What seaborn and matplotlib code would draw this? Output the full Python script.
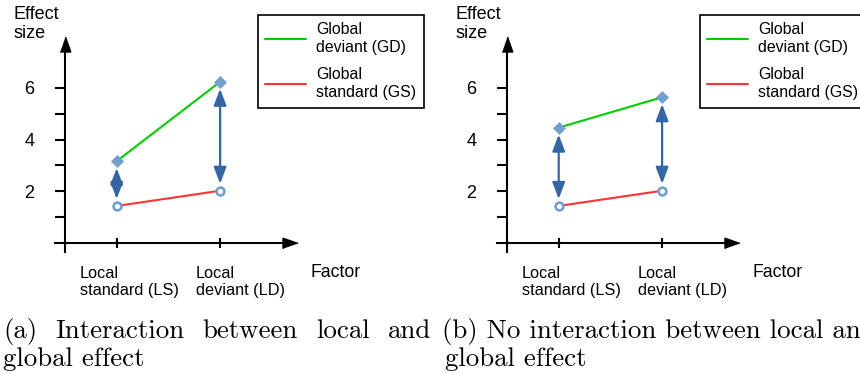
import numpy as np
import pandas as pd
import matplotlib
matplotlib.use("Agg")
import matplotlib.pyplot as plt
from matplotlib.lines import Line2D
import seaborn as sns

# ---------------- data ----------------
factor_labels = ["Local\nstandard (LS)", "Local\ndeviant (LD)"]
factor_pos = [1, 3]
gd_a = [3.16, 6.24]   # Global deviant, panel (a)
gs_a = [1.42, 2.01]   # Global standard, panel (a)
gd_b = [4.46, 5.64]   # Global deviant, panel (b)
gs_b = [1.42, 2.01]   # Global standard, panel (b)
legend_labels = ["Global\ndeviant (GD)", "Global\nstandard (GS)"]
yticks_major = [2, 4, 6]
yticks_minor = [1, 3, 5]
ylabel_text = "Effect\nsize"
xlabel_text = "Factor"
caption_a = ["(a) Interaction between local and", "global effect"]
caption_b = ["(b) No interaction between local and", "global effect"]

# ---------------- style ----------------
sns.set_theme(style="white")
plt.rcParams["font.family"] = ["Liberation Sans", "DejaVu Sans"]

GREEN = "#00cc00"
RED = "#ff3333"
MARK = "#729fcf"
ARROW = "#3465a4"

W, H = 860, 374
fig = plt.figure(figsize=(W / 100, H / 100), dpi=100)

XL, XR = -0.19, 4.36
YB, YT = -0.37, 7.69
PXU, PYU = 51.7, 25.75
ORIGIN_Y = 242.5
label_offsets = [-0.71, -0.47]

tri_up = [(-0.35, -0.5), (0.35, -0.5), (0, 0.5)]
tri_right = [(-0.5, -0.35), (-0.5, 0.35), (0.5, 0)]


def make_ax(origin_x):
    left = origin_x + XL * PXU
    width = (XR - XL) * PXU
    bottom_px = ORIGIN_Y - YB * PYU
    height = (YT - YB) * PYU
    return fig.add_axes([left / W, (H - bottom_px) / H, width / W, height / H])


def draw_panel(ax, gd, gs, legend_left):
    df = pd.DataFrame({
        "pos": factor_pos * 2,
        "effect": gd + gs,
        "series": ["GD"] * len(gd) + ["GS"] * len(gs),
    })
    # double-headed arrows between the two series at each factor level
    for x, lo, hi in zip(factor_pos, gs, gd):
        ax.annotate("", xy=(x, hi), xytext=(x, lo),
                    arrowprops=dict(arrowstyle="<|-|>,head_length=1.0,head_width=0.38",
                                    color=ARROW, lw=1.6, shrinkA=5, shrinkB=5,
                                    mutation_scale=10), zorder=2)
    sns.lineplot(data=df[df.series == "GD"], x="pos", y="effect", ax=ax,
                 color=GREEN, lw=1.5, marker="D", ms=6.4, mfc=MARK, mec=MARK,
                 mew=0.5, zorder=3, legend=False)
    sns.lineplot(data=df[df.series == "GS"], x="pos", y="effect", ax=ax,
                 color=RED, lw=1.5, marker="o", ms=5.6, mfc="white", mec=MARK,
                 mew=1.9, zorder=3, legend=False)

    ax.set_xlim(XL, XR)
    ax.set_ylim(YB, YT)
    ax.set_xlabel("")
    ax.set_ylabel("")
    for s in ["top", "right"]:
        ax.spines[s].set_visible(False)
    for s in ["left", "bottom"]:
        ax.spines[s].set_position(("data", 0))
        ax.spines[s].set_linewidth(1.5)
        ax.spines[s].set_color("black")
    ax.plot([0], [1], marker=tri_up, ms=10.8, color="black",
            transform=ax.get_xaxis_transform(), clip_on=False, zorder=5)
    ax.plot([1], [0], marker=tri_right, ms=10.8, color="black",
            transform=ax.get_yaxis_transform(), clip_on=False, zorder=5)

    ax.set_yticks(yticks_major)
    ax.set_yticks(yticks_minor, minor=True)
    ax.tick_params(axis="y", which="both", direction="out", length=7, width=1.5,
                   left=True, right=False, pad=15, labelsize=13,
                   color="black", labelcolor="black")
    ax.set_xticks(factor_pos, labels=[""] * len(factor_pos))
    ax.tick_params(axis="x", which="both", direction="inout", length=7, width=1.5,
                   bottom=True, top=False, color="black")
    ax.grid(False)
    ax.patch.set_alpha(0)

    for x, lab, off in zip(factor_pos, factor_labels, label_offsets):
        ax.text(x + off, -0.93, lab, ha="left", va="top", fontsize=11.7,
                linespacing=1.12, color="black", clip_on=False)
    ax.text(-1.0, 9.2, ylabel_text, ha="left", va="top", fontsize=13,
            linespacing=1.15, color="black", clip_on=False)
    ax.text(4.74, -1.15, xlabel_text, ha="left", va="center", fontsize=12.7,
            color="black", clip_on=False)

    handles = [Line2D([], [], color=GREEN, lw=1.5), Line2D([], [], color=RED, lw=1.5)]
    leg = ax.legend(handles, legend_labels, loc="upper left",
                    bbox_to_anchor=(legend_left / W, 1 - 15 / H),
                    bbox_transform=fig.transFigure, borderaxespad=0,
                    frameon=True, fancybox=False, edgecolor="black", framealpha=1,
                    fontsize=11.4, handlelength=2.6, handletextpad=0.63,
                    borderpad=0.45, labelspacing=0.75)
    leg.get_frame().set_linewidth(1.2)
    for t in leg.get_texts():
        t.set_linespacing(1.27)
        t.set_color("black")


ax_a = make_ax(65)
draw_panel(ax_a, gd_a, gs_a, 258)
ax_b = make_ax(507)
draw_panel(ax_b, gd_b, gs_b, 700)

# ---------------- captions ----------------
CAP_FONT = dict(family="cmr10", size=19.4, color="black")
renderer = fig.canvas.get_renderer()


def justified(line, x0, x1, y):
    words = line.split(" ")
    texts = [fig.text(0, 1 - y / H, w, ha="left", va="baseline", **CAP_FONT) for w in words]
    widths = [t.get_window_extent(renderer).width for t in texts]
    gap = (x1 - x0 - sum(widths)) / (len(words) - 1)
    x = x0
    for t, w in zip(texts, widths):
        t.set_x(x / W)
        x += w + gap


justified(caption_a[0], 3, 431, 338)
fig.text(3 / W, 1 - 366 / H, caption_a[1], ha="left", va="baseline", **CAP_FONT)
fig.text(442 / W, 1 - 338 / H, caption_b[0], ha="left", va="baseline", **CAP_FONT)
fig.text(445 / W, 1 - 366 / H, caption_b[1], ha="left", va="baseline", **CAP_FONT)

fig.savefig("out.png", dpi=100)
